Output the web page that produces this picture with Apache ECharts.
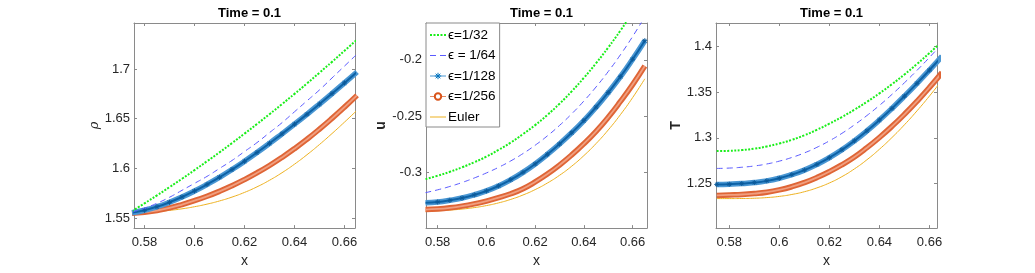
<!DOCTYPE html>
<html><head><meta charset="utf-8">
<script src="https://cdn.jsdelivr.net/npm/echarts@6/dist/echarts.min.js"></script>
<style>html,body{margin:0;padding:0;background:#fff}#c{width:1035px;height:273px}</style>
</head><body><div id="c"></div>
<script>
// x samples
const xs = [0.575,0.58,0.585,0.59,0.595,0.60,0.605,0.61,0.615,0.62,0.625,0.63,0.635,0.64,0.645,0.65,0.655,0.66,0.665];
// legend names
const seriesNames = ['ϵ=1/32','ϵ = 1/64','ϵ=1/128','ϵ=1/256','Euler'];
// density rho
const rho32 = [1.5571,1.5649,1.5729,1.5812,1.5896,1.5983,1.6072,1.6162,1.6255,1.6350,1.6447,1.6546,1.6647,1.6750,1.6855,1.6963,1.7072,1.7183,1.7296];
const rho64 = [1.556,1.560,1.565,1.571,1.578,1.585,1.592,1.600,1.608,1.617,1.626,1.636,1.646,1.657,1.668,1.679,1.691,1.703,1.715];
const rho128 = [1.5555,1.5580,1.5615,1.5660,1.5713,1.5773,1.5839,1.5911,1.5989,1.6072,1.6160,1.6252,1.6348,1.6445,1.6545,1.6648,1.6753,1.6860,1.6970];
const rho256 = [1.5550,1.5560,1.5577,1.5603,1.5637,1.5676,1.5720,1.5770,1.5826,1.5888,1.5956,1.6030,1.6111,1.6199,1.6294,1.6396,1.6504,1.6617,1.6735];
const rhoEuler = [1.5550,1.5557,1.5566,1.5578,1.5594,1.5615,1.5641,1.5673,1.5712,1.5759,1.5815,1.5881,1.5957,1.6043,1.6138,1.6241,1.6351,1.6466,1.6585];
// velocity u
const u32 = [-0.306,-0.303,-0.2995,-0.2955,-0.291,-0.286,-0.280,-0.2735,-0.266,-0.258,-0.249,-0.239,-0.228,-0.216,-0.203,-0.189,-0.174,-0.158,-0.141];
const u64 = [-0.318,-0.3155,-0.3125,-0.309,-0.305,-0.3005,-0.2955,-0.2898,-0.2833,-0.2759,-0.2676,-0.2583,-0.2480,-0.2366,-0.2241,-0.2104,-0.1955,-0.1793,-0.1618];
const u128 = [-0.327,-0.3263,-0.3248,-0.3228,-0.3200,-0.3165,-0.3120,-0.3065,-0.3000,-0.2925,-0.2840,-0.2748,-0.2648,-0.2540,-0.2420,-0.2290,-0.2150,-0.1995,-0.1830];
const u256 = [-0.333,-0.3325,-0.3315,-0.330,-0.328,-0.3255,-0.3225,-0.319,-0.3145,-0.3085,-0.3015,-0.2935,-0.2845,-0.2745,-0.2635,-0.2510,-0.2370,-0.2220,-0.2055];
const uEuler = [-0.3345,-0.3341,-0.3335,-0.3326,-0.3313,-0.3295,-0.3271,-0.3240,-0.3201,-0.3153,-0.3095,-0.3026,-0.2945,-0.2851,-0.2744,-0.2623,-0.2487,-0.2336,-0.2169];
// temperature T
const T32 = [1.2855,1.2858,1.2866,1.2882,1.2906,1.2938,1.2978,1.3028,1.3088,1.3155,1.3228,1.3308,1.3394,1.3487,1.3587,1.3694,1.3808,1.3928,1.4055];
const T64 = [1.2665,1.2669,1.2678,1.2692,1.2714,1.2745,1.2785,1.2835,1.2896,1.2967,1.3049,1.3142,1.3244,1.3355,1.3475,1.3603,1.3738,1.3881,1.4030];
const T128 = [1.2490,1.2493,1.2499,1.2510,1.2529,1.2558,1.2597,1.2647,1.2709,1.2783,1.2869,1.2967,1.3076,1.3195,1.3322,1.3456,1.3596,1.3742,1.3893];
const T256 = [1.2370,1.2375,1.2380,1.2390,1.2405,1.2430,1.2465,1.2510,1.2565,1.2630,1.2705,1.2790,1.2892,1.3004,1.3126,1.3258,1.3400,1.3552,1.3714];
const TEuler = [1.2335,1.2335,1.2336,1.2339,1.2346,1.2359,1.2380,1.2410,1.2452,1.2506,1.2575,1.2660,1.2760,1.2875,1.3003,1.3143,1.3295,1.3458,1.3630];
// tick labels
const xTicks = [0.58,0.6,0.62,0.64,0.66];
const rhoTicks = [1.55,1.6,1.65,1.7];
const uTicks = [-0.3,-0.25,-0.2];
const TTicks = [1.25,1.3,1.35,1.4];
const yNames = ['ρ','u','T'];
const titleText = 'Time = 0.1';

const panels = [
  {vals:[rho32,rho64,rho128,rho256,rhoEuler], yTicks:rhoTicks, left:134, xmin:0.5758, xmax:0.6642, ymin:1.54, ymax:1.7463, nameGap:22, nameStyle:{fontStyle:'italic',fontWeight:'normal',fontFamily:'DejaVu Serif',fontSize:13}},
  {vals:[u32,u64,u128,u256,uEuler], yTicks:uTicks, left:426, xmin:0.5752, xmax:0.6659, ymin:-0.3495, ymax:-0.1673, nameGap:27, nameStyle:{fontWeight:'bold',fontSize:14}},
  {vals:[T32,T64,T128,T256,TEuler], yTicks:TTicks, left:716, xmin:0.5747, xmax:0.663, ymin:1.2012, ymax:1.4257, nameGap:28, nameStyle:{fontWeight:'bold',fontSize:14}}
];
const W = 221, TOP = 23, H = 207;
const axisCol = '#8a8a8a', txtCol = '#262626', FF = 'Liberation Sans';
const fmt = v => String(+v.toFixed(4));
const starPath = 'path://M0,-5L0,5M-5,0L5,0M-3.6,-3.6L3.6,3.6M-3.6,3.6L3.6,-3.6';

const grids = [], xAxes = [], yAxes = [], series = [], titles = [];
panels.forEach((p, i) => {
  grids.push({left:p.left, top:TOP, width:W, height:H, show:false, containLabel:false});
  titles.push({text:titleText, left:p.left + W/2, top:2, textAlign:'center',
    textStyle:{fontFamily:FF, fontSize:13, fontWeight:'bold', color:'#000'}});
  const xb = {gridIndex:i, type:'value', min:p.xmin, max:p.xmax, splitLine:{show:false},
    axisLine:{show:true, onZero:false, lineStyle:{color:axisCol, width:1}},
    axisTick:{show:true, inside:true, length:3, customValues:xTicks, lineStyle:{color:axisCol}}};
  xAxes.push(Object.assign({}, xb, {position:'bottom',
    axisLabel:{show:true, customValues:xTicks, formatter:fmt, color:txtCol, fontFamily:FF, fontSize:13, margin:8},
    name:'x', nameLocation:'middle', nameGap:25, nameTextStyle:{fontFamily:FF, fontSize:14, color:txtCol}}));
  xAxes.push(Object.assign({}, xb, {position:'top', axisLabel:{show:false}}));
  const yb = {gridIndex:i, type:'value', min:p.ymin, max:p.ymax, splitLine:{show:false},
    axisLine:{show:true, onZero:false, lineStyle:{color:axisCol, width:1}},
    axisTick:{show:true, inside:true, length:3, customValues:p.yTicks, lineStyle:{color:axisCol}}};
  yAxes.push(Object.assign({}, yb, {position:'left',
    axisLabel:{show:true, customValues:p.yTicks, formatter:fmt, color:txtCol, fontFamily:FF, fontSize:13, margin:4},
    name:yNames[i], nameLocation:'middle', nameGap:p.nameGap,
    nameTextStyle:Object.assign({fontFamily:FF, color:txtCol}, p.nameStyle)}));
  yAxes.push(Object.assign({}, yb, {position:'right', axisLabel:{show:false}}));
  const xi = i*2, yi = i*2;
  const styles = [
    {color:'#00e600', lineStyle:{color:'#1aee1a', width:2, type:[2,1.5]}, symbol:'none'},
    {color:'#5050ff', lineStyle:{color:'#5a5aff', width:1, type:[6,4]}, symbol:'none'},
    {color:'#0072BD', lineStyle:{color:'#4a97d3', width:5.5}, symbol:starPath, symbolSize:5, showSymbol:true,
      itemStyle:{color:'#0b5a9a', borderColor:'#0b5a9a', borderWidth:1}},
    {color:'#D95319', lineStyle:{color:'#df6536', width:5.5}, symbol:'emptyCircle', symbolSize:5, showSymbol:false,
      itemStyle:{color:'#D95319', borderColor:'#D95319', borderWidth:1}},
    {color:'#EDB120', lineStyle:{color:'#EDB120', width:1}, symbol:'none'}
  ];
  p.vals.forEach((vals, k) => {
    const s = styles[k];
    const data = xs.map((x, j) => [x, vals[j]]);
    series.push(Object.assign({
      type:'line', name:seriesNames[k], xAxisIndex:xi, yAxisIndex:yi, smooth:true,
      showAllSymbol:true, animation:false, silent:true, clip:true, data:data, z: 10 - k
    }, s));
    // inner core stroke giving the dense-marker band its texture
    if (k === 2 || k === 3) {
      series.push({type:'line', name:seriesNames[k] + ' core', xAxisIndex:xi, yAxisIndex:yi, smooth:true,
        animation:false, silent:true, clip:true, data:data, symbol:'none', z: 10 - k,
        lineStyle:{color: k === 2 ? '#0d62a6' : '#f09f80', width: k === 2 ? 2 : 1.8}});
    }
  });
});

const chart = echarts.init(document.getElementById('c'), null, {renderer:'canvas'});
chart.setOption({
  animation:false,
  title:titles,
  grid:grids, xAxis:xAxes, yAxis:yAxes, series:series,
  legend:{
    orient:'vertical', left:426, top:23, padding:[5,4,3,3], itemGap:6.5, itemWidth:16, itemHeight:8,
    backgroundColor:'#fff', borderColor:'#8a8a8a', borderWidth:1, borderRadius:0,
    textStyle:{fontFamily:FF, fontSize:13.5, lineHeight:14, color:'#000', padding:[0,0,0,-3]},
    selectedMode:false,
    data:[
      {name:seriesNames[0], itemStyle:{opacity:0}, lineStyle:{width:2}},
      {name:seriesNames[1], itemStyle:{opacity:0}, lineStyle:{width:1}},
      {name:seriesNames[2], lineStyle:{width:1, color:'#4a97d3'}, itemStyle:{color:'#0072BD', borderColor:'#0072BD', borderWidth:1}},
      {name:seriesNames[3], lineStyle:{width:1, color:'#e58a63'}},
      {name:seriesNames[4], itemStyle:{opacity:0}, lineStyle:{width:1}}
    ]
  }
});
</script></body></html>
